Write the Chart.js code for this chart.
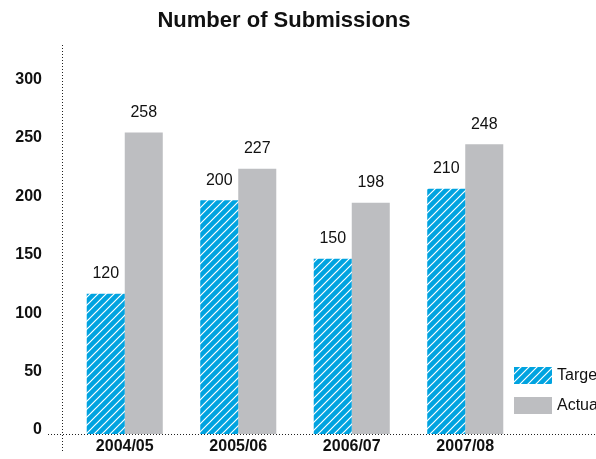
<!DOCTYPE html>
<html><head><meta charset="utf-8">
<script src="https://cdn.jsdelivr.net/npm/chart.js@4"></script>
<style>html,body{margin:0;padding:0;overflow:hidden;background:#fff}#wrap{width:620px;height:459px}</style>
</head><body><div id="wrap"><canvas id="c" width="620" height="459"></canvas></div>
<script>
const titleText = 'Number of Submissions';
const categories = ['2004/05', '2005/06', '2006/07', '2007/08'];
const seriesNames = ['Target', 'Actual'];
const targetValues = [120, 200, 150, 210];
const actualValues = [258, 227, 198, 248];
const yTicks = [0, 50, 100, 150, 200, 250, 300];

const FONT = "'Liberation Sans', Arial, sans-serif";
const BLUE = '#00a3e0';
const GREY = '#bdbec1';
const INK = '#111';

function stripePattern() {
  const s = 8;
  const p = document.createElement('canvas');
  p.width = s; p.height = s;
  const g = p.getContext('2d');
  g.fillStyle = BLUE; g.fillRect(0, 0, s, s);
  g.strokeStyle = '#fff'; g.lineWidth = 1.2;
  g.beginPath();
  g.moveTo(0, s); g.lineTo(s, 0);
  g.moveTo(-s / 2, s / 2); g.lineTo(s / 2, -s / 2);
  g.moveTo(s / 2, s * 1.5); g.lineTo(s * 1.5, s / 2);
  g.stroke();
  return document.createElement('canvas').getContext('2d').createPattern(p, 'repeat');
}
const pattern = stripePattern();

const decor = {
  id: 'decor',
  beforeDatasetsDraw(chart) {
    const { ctx, chartArea: a, scales: { y } } = chart;
    const y0 = Math.round(y.getPixelForValue(0)) + 0.5;
    const ax = Math.round(a.left - 6) + 0.5;
    ctx.save();
    ctx.strokeStyle = '#222'; ctx.lineWidth = 1; ctx.setLineDash([1, 2]);
    ctx.beginPath(); ctx.moveTo(a.left - 20, y0); ctx.lineTo(chart.width, y0); ctx.stroke();
    ctx.beginPath(); ctx.moveTo(ax, a.top); ctx.lineTo(ax, a.bottom + 17); ctx.stroke();
    ctx.restore();
  },
  afterDatasetsDraw(chart) {
    const { ctx, chartArea: a } = chart;
    ctx.save();
    ctx.fillStyle = INK;
    ctx.font = '16px ' + FONT;
    ctx.textAlign = 'center'; ctx.textBaseline = 'middle';
    chart.data.datasets.forEach((ds, i) => {
      chart.getDatasetMeta(i).data.forEach((el, j) => {
        ctx.fillText(String(ds.data[j]), el.x, el.y - 20);
      });
    });
    // title
    ctx.font = 'bold 22px ' + FONT;
    ctx.fillText(titleText, 284, 21);
    // legend
    const lx = a.right - 8;
    const tops = [a.bottom - 67, a.bottom - 37];
    chart.data.datasets.forEach((ds, i) => {
      ctx.fillStyle = ds.backgroundColor;
      ctx.fillRect(lx, tops[i], 38, 17);
      ctx.fillStyle = INK;
      ctx.font = '16px ' + FONT;
      ctx.textAlign = 'left';
      ctx.fillText(ds.label, lx + 43, tops[i] + 9);
    });
    ctx.restore();
  }
};

new Chart(document.getElementById('c'), {
  type: 'bar',
  data: {
    labels: categories,
    datasets: [
      { label: seriesNames[0], data: targetValues, backgroundColor: pattern },
      { label: seriesNames[1], data: actualValues, backgroundColor: GREY }
    ]
  },
  options: {
    responsive: false,
    animation: false,
    devicePixelRatio: 1,
    layout: { padding: { top: 45, right: 98, left: 0, bottom: 0 } },
    categoryPercentage: 0.67,
    barPercentage: 1.0,
    plugins: { legend: { display: false }, title: { display: false }, tooltip: { enabled: false } },
    scales: {
      x: {
        grid: { display: false, drawTicks: false },
        border: { display: false },
        ticks: { color: INK, font: { family: FONT, size: 16, weight: 'bold' }, padding: 3 },
        afterFit(s) { s.height = 25; s.paddingLeft = 0; s.paddingRight = 0; }
      },
      y: {
        min: 0, max: 333,
        grid: { display: false, drawTicks: false },
        border: { display: false },
        ticks: { color: INK, font: { family: FONT, size: 16, weight: 'bold' }, padding: 26, labelOffset: -4 },
        afterBuildTicks(s) { s.ticks = yTicks.map(v => ({ value: v })); },
        afterFit(s) { s.width = 68; s.paddingTop = 0; s.paddingBottom = 0; }
      }
    }
  },
  plugins: [decor]
});
</script></body></html>
